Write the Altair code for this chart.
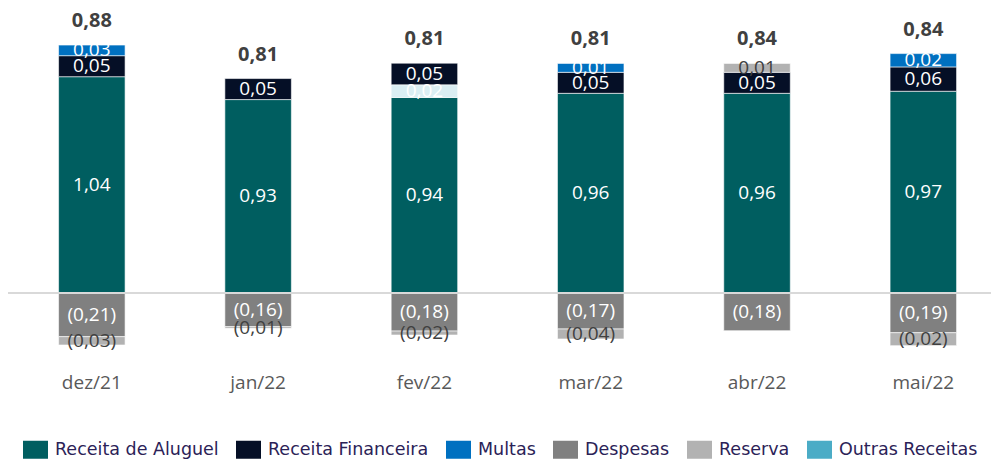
import altair as alt
import pandas as pd

months = ["dez/21", "jan/22", "fev/22", "mar/22", "abr/22", "mai/22"]

series_names = ["Receita de Aluguel", "Receita Financeira", "Multas",
                "Despesas", "Reserva", "Outras Receitas"]
series_colors = ["#005E60", "#050F26", "#0070C0", "#808080", "#B2B2B2", "#4BACC6"]

# segment heights as drawn in the picture
aluguel = [1.04, 0.93, 0.94, 0.96, 0.96, 0.97]
financeira = [0.101, 0.101, 0.104, 0.101, 0.101, 0.117]
multas = [0.051, None, None, 0.043, None, 0.064]
despesas = [-0.210, -0.162, -0.183, -0.173, -0.181, -0.191]
reserva = [-0.040, -0.008, -0.019, -0.048, 0.043, -0.062]
outras = [None, None, 0.061, None, None, None]

# printed labels
aluguel_lbl = ["1,04", "0,93", "0,94", "0,96", "0,96", "0,97"]
financeira_lbl = ["0,05", "0,05", "0,05", "0,05", "0,05", "0,06"]
multas_lbl = ["0,03", None, None, "0,01", None, "0,02"]
despesas_lbl = ["(0,21)", "(0,16)", "(0,18)", "(0,17)", "(0,18)", "(0,19)"]
reserva_lbl = ["(0,03)", "(0,01)", "(0,02)", "(0,04)", "0,01", "(0,02)"]
outras_lbl = [None, None, "0,02", None, None, None]
totals_lbl = ["0,88", "0,81", "0,81", "0,81", "0,84", "0,84"]

stack_order = {"Receita de Aluguel": 0, "Outras Receitas": 1, "Receita Financeira": 2,
               "Multas": 3, "Despesas": 4, "Reserva": 5}

rows = []
for name, vals, lbls in [
    ("Receita de Aluguel", aluguel, aluguel_lbl),
    ("Outras Receitas", outras, outras_lbl),
    ("Receita Financeira", financeira, financeira_lbl),
    ("Multas", multas, multas_lbl),
    ("Despesas", despesas, despesas_lbl),
    ("Reserva", reserva, reserva_lbl),
]:
    for i, m in enumerate(months):
        if vals[i] is None:
            continue
        rows.append({"month": m, "serie": name, "value": vals[i], "label": lbls[i],
                     "ord": stack_order[name], "total": totals_lbl[i]})
df = pd.DataFrame(rows)

FONT = "Open Sans"

x = alt.X("month:N", sort=months,
          scale=alt.Scale(paddingInner=0.6, paddingOuter=0.2555, align=0.595),
          axis=alt.Axis(title=None, labelAngle=0, domain=False, ticks=False,
                        labelPadding=13, labelFont=FONT, labelFontSize=19,
                        labelColor="#595959"))
yscale = alt.Scale(domain=[-0.3221, 1.4087], nice=False, zero=False)

base = alt.Chart(df).transform_stack(
    stack="value", groupby=["month"], sort=[alt.SortField("ord", order="ascending")],
    as_=["y0", "y1"], offset="zero")

color = alt.condition(
    "datum.month == 'fev/22' && datum.serie == 'Outras Receitas'",
    alt.value("#DAEEF3"),
    alt.Color("serie:N",
              scale=alt.Scale(domain=series_names, range=series_colors),
              legend=alt.Legend(title=None, orient="none", legendX=15, legendY=437,
                                direction="horizontal",
                                symbolType="M-1,-0.72H1V0.72H-1Z", symbolSize=625,
                                symbolStrokeWidth=0, labelFont="DejaVu Sans",
                                labelFontSize=17.5, labelColor="#2B2257",
                                columnPadding=17, labelOffset=7, padding=0,
                                labelLimit=400)))

bars = base.mark_bar(stroke="white", strokeWidth=0.6).encode(
    x=x,
    y=alt.Y("y0:Q", scale=yscale, axis=None),
    y2="y1:Q",
    color=color,
)

seg_text = base.transform_calculate(mid="(datum.y0 + datum.y1) / 2").mark_text(
    font=FONT, fontSize=19, baseline="middle", align="center").encode(
    x=alt.X("month:N", sort=months),
    y=alt.Y("mid:Q", scale=yscale, axis=None),
    text="label:N",
    color=alt.condition("datum.serie == 'Reserva'", alt.value("#404040"), alt.value("white")),
)

tot_text = base.transform_aggregate(top="max(y1)", groupby=["month", "total"]).mark_text(
    font=FONT, fontSize=20, fontWeight="bold", baseline="middle", align="center",
    dy=-24, color="#404040").encode(
    x=alt.X("month:N", sort=months),
    y=alt.Y("top:Q", scale=yscale, axis=None),
    text="total:N",
)

zero_rule = alt.Chart(pd.DataFrame({"z": [0]})).mark_rule(
    color="#D9D9D9", strokeWidth=2).encode(y=alt.Y("z:Q", scale=yscale, axis=None))

chart = alt.layer(bars, zero_rule, seg_text, tot_text).properties(
    width=983, height=360,
    autosize=alt.AutoSizeParams(type="none"),
    padding={"left": 8, "top": 0, "right": 0, "bottom": 99},
).configure_view(stroke=None)

chart.save("out.html", embed_options={"renderer": "svg", "actions": False})
